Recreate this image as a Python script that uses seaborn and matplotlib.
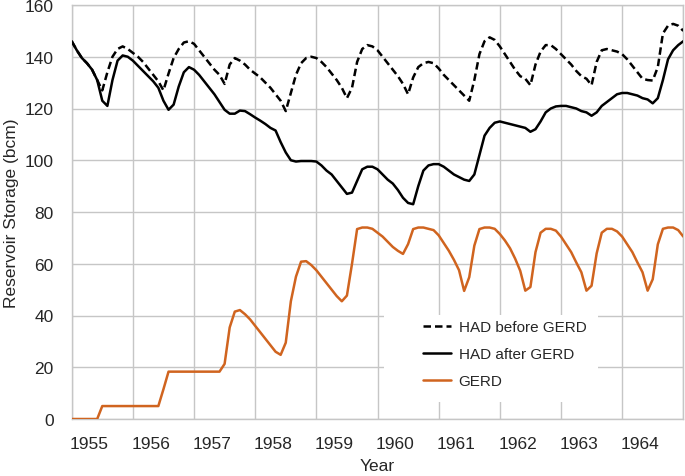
import numpy as np
import pandas as pd
import matplotlib
matplotlib.use("Agg")
import matplotlib.pyplot as plt
from matplotlib.patches import Rectangle
from matplotlib.ticker import FixedLocator, NullFormatter
import seaborn as sns

# monthly values, Jan 1955 .. Jan 1965
years = [1955, 1956, 1957, 1958, 1959, 1960, 1961, 1962, 1963, 1964]

had_before = [
    146, 142.5, 139.5, 137.5, 135, 131, 127, 134, 140, 143, 144, 143,
    141.5, 140, 138, 135.5, 133, 130.5, 127, 133.5, 139.5, 143, 145.5, 146,
    145, 142.5, 140, 137.5, 135, 133, 129.5, 137, 139.5, 138.5, 137, 135,
    133.5, 132, 130, 128, 125.5, 123, 119, 126, 133, 137.5, 139.5, 140,
    139.5, 138, 136, 133.5, 131, 128, 124, 128, 138, 143, 144.5, 144,
    142.5, 140, 137.5, 135, 132.5, 129.5, 125.5, 132, 136, 137.5, 138, 137.5,
    135.5, 133, 131, 129, 127, 125, 123, 131, 141, 146, 147.5, 146.5,
    144, 141, 138, 135, 132.5, 131.5, 129, 137, 142, 144.5, 144.5, 143,
    141, 139, 137, 134.5, 132.5, 131.5, 129, 138, 142.5, 143, 142.5, 142,
    141, 139, 136.5, 134, 131.5, 131, 130.8, 136, 149, 152, 152.7, 152,
    150,
]

had_after = [
    146, 142.5, 139.5, 137.5, 135, 131, 123, 121, 131, 138.5, 140.5, 140,
    138.5, 136.5, 134.5, 132.5, 130.5, 128, 123, 119.5, 121.5, 128.5, 134, 136,
    135, 133, 130.5, 128, 125.5, 122.5, 119.5, 118, 118, 119.2, 119, 117.8,
    116.5, 115.3, 114, 112.5, 111.5, 107, 103, 100, 99.5, 99.7, 99.7, 99.7,
    99.5, 98, 96, 94.5, 92, 89.5, 87, 87.5, 92, 96.5, 97.5, 97.5,
    96.5, 94.5, 92.5, 91, 88.5, 85.5, 83.5, 83, 90, 96, 98, 98.5,
    98.5, 97.5, 96, 94.5, 93.5, 92.5, 92, 94.5, 102, 109.5, 112.5, 114.5,
    115, 114.5, 114, 113.5, 113, 112.5, 111, 112, 115, 118.5, 120, 120.8,
    121, 121, 120.5, 120, 119, 118.5, 117.2, 118.5, 121, 122.5, 124, 125.5,
    126, 126, 125.5, 125, 124, 123.5, 122, 124, 131, 139, 142.5, 144.5,
    146,
]

gerd = [
    0, 0, 0, 0, 0, 0, 5, 5, 5, 5, 5, 5,
    5, 5, 5, 5, 5, 5, 11.5, 18.3, 18.3, 18.3, 18.3, 18.3,
    18.3, 18.3, 18.3, 18.3, 18.3, 18.3, 21.3, 35.4, 41.5, 42.1, 40.5, 38.5,
    36, 33.5, 31, 28.5, 26, 24.8, 29.5, 45.5, 55, 60.8, 61, 59.5,
    57.5, 55, 52.5, 50, 47.5, 45.5, 47.7, 60, 73.4, 74, 74, 73.5,
    72, 70.5, 68.5, 66.5, 65, 63.8, 67.6, 73.4, 74, 74, 73.5, 73,
    71, 68, 65, 61.5, 57.5, 49.5, 54.8, 67, 73.4, 74, 74, 73.5,
    71.5, 69, 66, 62, 57.3, 49.6, 51, 64.5, 72, 73.5, 73.5, 72.8,
    70.5, 67.5, 64.5, 60.5, 56.7, 49.6, 51.5, 64, 72, 73.5, 73.5, 72.5,
    70.5, 67.5, 64.5, 60.5, 56.7, 49.6, 54, 67.5, 73.5, 74, 74, 73,
    70.5,
]

t = 1955 + np.arange(len(gerd)) / 12
df = pd.DataFrame({
    "t": np.concatenate([t, t, t]),
    "value": had_before + had_after + gerd,
    "series": (["HAD before GERD"] * len(t) + ["HAD after GERD"] * len(t)
               + ["GERD"] * len(t)),
})

sns.set_style("white")
plt.rcParams["font.family"] = ["Liberation Sans", "DejaVu Sans"]

grey = "#c6c6c6"
orange = "#d0641f"

fig = plt.figure(figsize=(6.85, 4.77), dpi=100)
ax = fig.add_axes([71.7 / 685, 1 - 420 / 477, 611.6 / 685, 414 / 477])

sns.lineplot(data=df, x="t", y="value", hue="series", style="series",
             palette={"HAD before GERD": "black", "HAD after GERD": "black",
                      "GERD": orange},
             dashes={"HAD before GERD": (3, 1.6), "HAD after GERD": "",
                     "GERD": ""},
             linewidth=1.8, ax=ax, legend=False, zorder=3)

ax.set_xlim(1955, 1965)
ax.set_ylim(0, 160)
ax.set_yticks(np.arange(0, 161, 20))
ax.xaxis.set_major_locator(FixedLocator(years + [1965]))
ax.xaxis.set_major_formatter(NullFormatter())
ax.xaxis.set_minor_locator(FixedLocator([y + 0.29 for y in years]))
ax.set_xticklabels([str(y) for y in years], minor=True)
ax.tick_params(axis="x", which="minor", length=0, pad=12, labelsize=12.5)
ax.tick_params(axis="x", which="major", length=5, color=grey, width=1)
ax.tick_params(axis="y", length=5, color=grey, width=1, pad=8, labelsize=12.5)

ax.set_axisbelow(True)
ax.grid(True, color=grey, linewidth=1)
for s in ax.spines.values():
    s.set_color(grey)
    s.set_linewidth(1)

# white legend panel over the gridlines
ax.add_patch(Rectangle((0.511, 0.041), 0.35, 0.21, transform=ax.transAxes,
                       facecolor="white", edgecolor="none", zorder=1))
handles = [
    plt.Line2D([], [], color="black", lw=1.8, dashes=(3, 1.6)),
    plt.Line2D([], [], color="black", lw=1.8),
    plt.Line2D([], [], color=orange, lw=1.8),
]
ax.legend(handles, ["HAD before GERD", "HAD after GERD", "GERD"],
          loc="upper left", bbox_to_anchor=(0.574, 0.238), frameon=False,
          fontsize=11, handlelength=1.85, handletextpad=0.5,
          labelspacing=0.85, borderpad=0, borderaxespad=0)

ax.set_xlabel("Year", fontsize=12.5, labelpad=5)
ax.set_ylabel("Reservoir Storage (bcm)", fontsize=12.5, labelpad=4)

fig.savefig("out.png", dpi=100)
